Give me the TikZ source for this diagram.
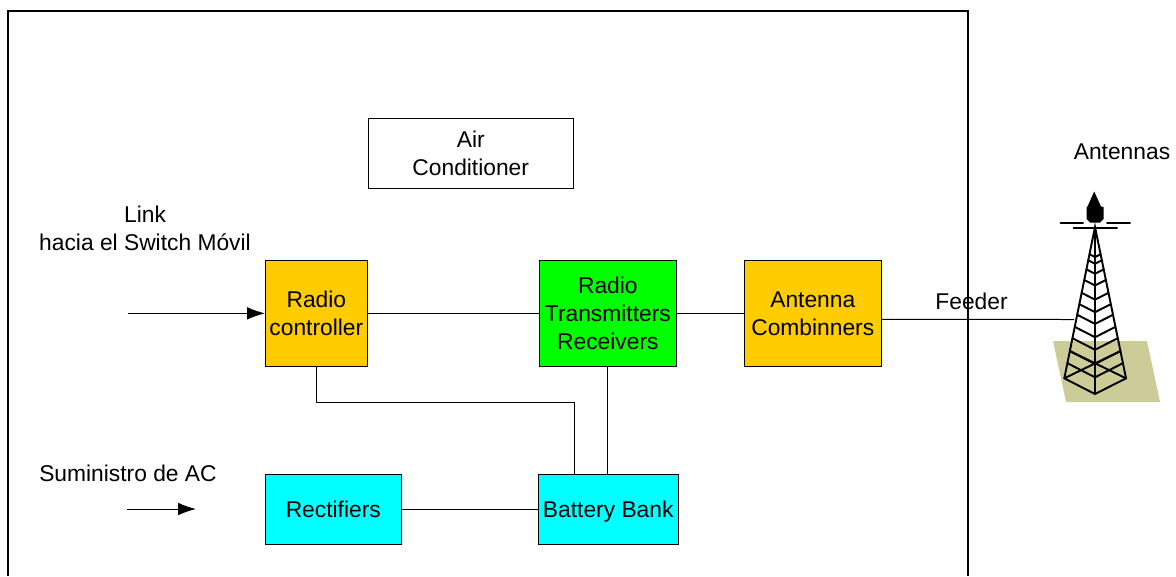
\documentclass[tikz,border=0pt]{standalone}
\usepackage{fontspec}
\setmainfont{Liberation Sans}
\usetikzlibrary{arrows.meta,positioning,calc}
\definecolor{RadioOrange}{HTML}{FFCC00}
\definecolor{RadioGreen}{HTML}{00FF00}
\definecolor{PowerCyan}{HTML}{00FFFF}
\definecolor{GroundTan}{HTML}{CCCC99}

\begin{document}
\begin{tikzpicture}[
  x=0.75pt,y=-0.75pt,
  box/.style={draw=black,line width=0.6pt,outer sep=0pt,align=center,font=\fontsize{17.1}{21}\selectfont},
  oneline/.style={text height=11.8pt,text depth=0pt},
  caption/.style={align=center,inner sep=0pt,font=\fontsize{17.1}{21}\selectfont},
  wire/.style={line width=0.75pt,draw=black},
  arr/.style={-{Latex[length=13.5pt,width=9.5pt]},line width=0.75pt,draw=black},
  tower/.style={line width=1.45pt,draw=black,line cap=round}
]
\useasboundingbox (0,0) rectangle (1176,576);
\fill[GroundTan] (1053,341) -- (1147,341) -- (1160,402) -- (1066,402) -- cycle;
\draw[line width=1.5pt] (8,576) -- (8,11) -- (968,11) -- (968,576);
\node[box,anchor=north west,minimum width=154.1pt,minimum height=53pt] (air) at (368,118) {Air\\Conditioner};
\node[box,fill=RadioOrange,anchor=north west,minimum width=76.9pt,minimum height=80pt] (ctrl) at (265,260) {Radio\\controller};
\node[box,fill=RadioGreen,right=128.6pt of ctrl,minimum width=103.1pt,minimum height=80pt] (radio) {Radio\\Transmitters\\Receivers};
\node[box,fill=RadioOrange,right=50.6pt of radio,minimum width=103.1pt,minimum height=80pt] (comb) {Antenna\\Combinners};
\node[box,oneline,fill=PowerCyan,anchor=north west,minimum width=102.4pt,minimum height=53pt] (rect) at (265,474) {Rectifiers};
\node[box,oneline,fill=PowerCyan,right=102.75pt of rect,minimum width=103.1pt,minimum height=53pt] (batt) {Battery Bank};
\coordinate[left=103pt of ctrl] (linkin);
\node[caption] (linklabel) at (145,228) {Link\\hacia el Switch Móvil};
\node[caption,anchor=west] (aclabel) at (39,473) {Suministro de AC};
\node[caption] (antlabel) at (1122,152) {Antennas};
\coordinate (acin) at (127,509);
\coordinate (acout) at (196,509);
\coordinate (feedout) at ([yshift=-4.5pt]comb.east);
\coordinate (feedend) at (1074,319.5);
\coordinate (battin) at ([xshift=-25.5pt]batt.north);
\draw[arr] (linkin) -- (ctrl);
\draw[arr] (acin) -- (acout);
\draw[wire] (ctrl) -- (radio);
\draw[wire] (radio) -- (comb);
\draw[wire] (rect) -- (batt);
\draw[wire] (radio.south) -- (radio.south |- batt.north);
\draw[wire] (ctrl.south) -- ++(0,36) -| (battin);
\draw[wire] (feedout) -- (feedend);
\node[caption] (feeder) at (971.5,301) {Feeder};
% tower
\coordinate (top) at (1095,227);
\coordinate (baseL) at (1064.3,378.3);
\coordinate (baseR) at (1126,378.3);
\coordinate (baseF) at (1095,394);
\draw[tower] (baseL) -- (top) -- (baseR) -- (baseF) -- (baseL);
\draw[tower] (top) -- (baseF);
\foreach \t in {0.9,0.82,0.735,0.66,0.58,0.51,0.435,0.35,0.28,0.22,0.18}{
  \draw[tower] ($(top)!\t!(baseL)$) -- ($(top)!\t!(baseF)$) -- ($(top)!\t!(baseR)$);
}
\draw[tower] (baseL) -- ($(top)!0.82!(baseR)$);
\draw[tower] (baseR) -- ($(top)!0.82!(baseL)$);
\draw[tower] (1060.5,223.3) -- (1083,223.3);
\draw[tower] (1107,223.3) -- (1130,223.3);
\draw[tower] (1073.5,228) -- (1117,228);
\fill[black] (1094.2,191.5) -- (1101,206.5) -- (1103.5,207) -- (1103.5,219) -- (1100,222.5) -- (1090,222.5) -- (1086.5,219) -- (1086.5,207) -- (1087.5,206.5) -- cycle;
\end{tikzpicture}
\end{document}
